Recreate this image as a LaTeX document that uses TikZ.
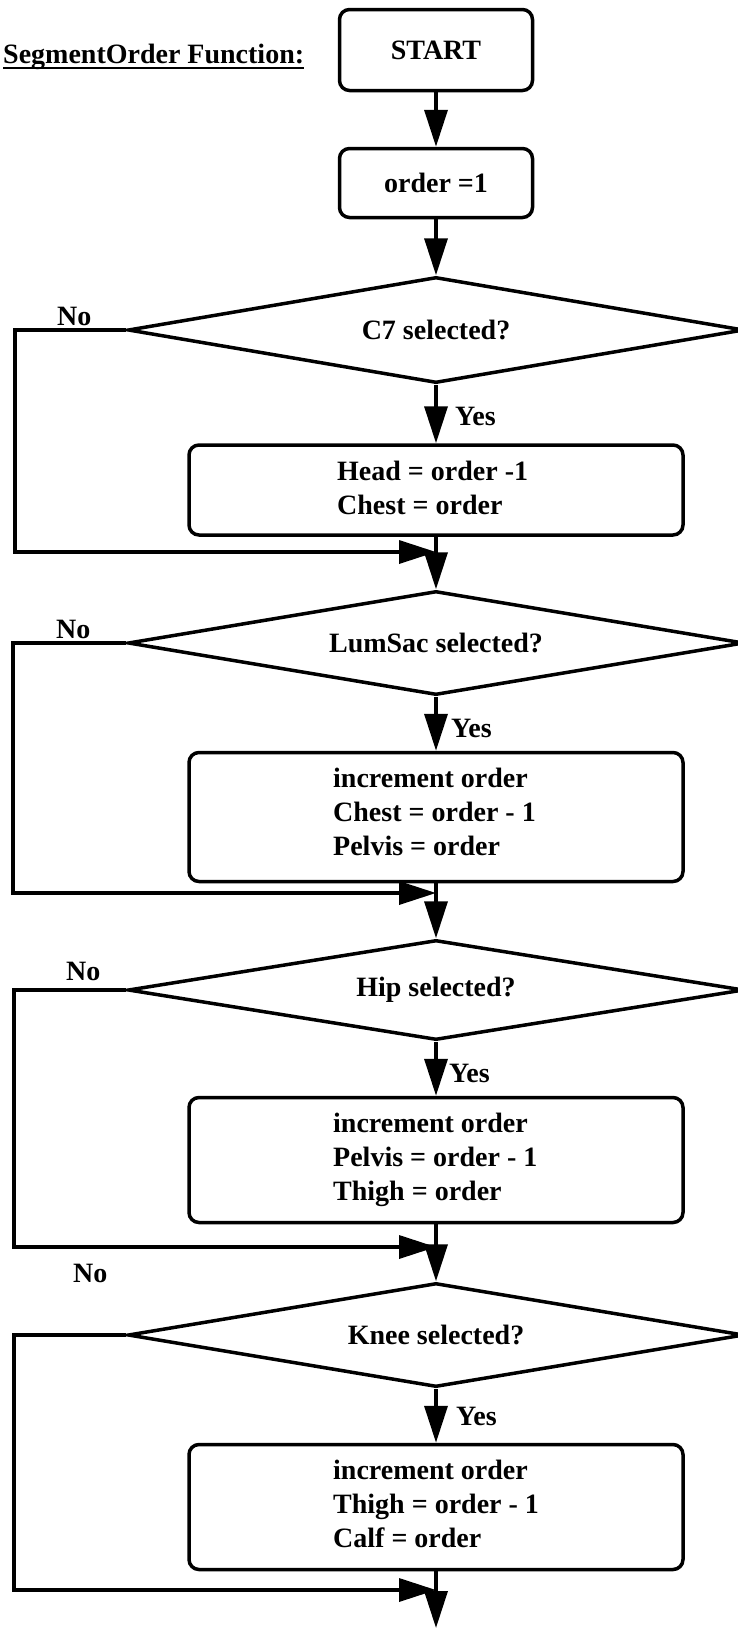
\documentclass[tikz,border=0pt]{standalone}
\usepackage{fontspec}
\setmainfont{Liberation Serif}
\usetikzlibrary{shapes.geometric,arrows.meta}
\newcommand\flowfont{\fontsize{28}{34}\selectfont\bfseries}
\begin{document}
\begin{tikzpicture}[x=1pt,y=-1pt,
  every node/.style={font=\flowfont, inner sep=0pt},
  termbox/.style={draw, rounded corners=10pt, line width=3.5pt, minimum width=193pt},
  stepbox/.style={draw, rounded corners=10pt, line width=3.5pt, minimum width=494pt},
  decision/.style={draw, diamond, aspect=5.8, line width=3.5pt, minimum width=616pt},
  flow/.style={line width=3.5pt, -{Triangle[length=37pt,width=23pt]}},
  lbl/.style={anchor=base west},
  body/.style={anchor=west, align=left}
]
\useasboundingbox (0,0) rectangle (737,1628);

% heading
\node[lbl] (title) at (3,63) {SegmentOrder Function:};
\draw[line width=2.5pt] ([yshift=-5pt]title.base west) -- ([yshift=-5pt]title.base east);

% start and initialisation
\node[termbox, minimum height=81pt] (start) at (436,50) {START};
\node[termbox, minimum height=69pt] (init) at (436,183) {order =1};

% C7 test
\node[decision, minimum height=106pt] (d1) at (436,330) {C7 selected?};
\node[stepbox, minimum height=90pt] (b2) at (436,490) {};
\node[body] (t2) at (337,488) {Head = order -1\\Chest = order};
\coordinate (m1) at (436,552);
\coordinate (r1) at (15,330);

% LumSac test
\node[decision, minimum height=104pt] (d2) at (436,643) {LumSac selected?};
\node[stepbox, minimum height=129pt] (b3) at (436,817) {};
\node[body] (t3) at (333,812) {increment order\\Chest = order - 1\\Pelvis = order};
\coordinate (m2) at (436,893);
\coordinate (r2) at (13,643);

% Hip test
\node[decision, minimum height=100pt] (d3) at (436,990) {Hip selected?};
\node[stepbox, minimum height=125pt] (b4) at (436,1160) {};
\node[body] (t4) at (333,1160) {increment order\\Pelvis = order - 1\\Thigh = order};
\coordinate (m3) at (436,1247);
\coordinate (r3) at (14,990);

% Knee test
\node[decision, minimum height=104pt] (d4) at (436,1335) {Knee selected?};
\node[stepbox, minimum height=125pt] (b5) at (436,1507) {};
\node[body] (t5) at (333,1504) {increment order\\Thigh = order - 1\\Calf = order};
\coordinate (m4) at (436,1590);
\coordinate (r4) at (14,1335);
\coordinate (exit) at (436,1628);

% branch labels
\node[lbl] (n1) at (57,325) {No};
\node[lbl] (n2) at (56,638) {No};
\node[lbl] (n3) at (66,980) {No};
\node[lbl] (n4) at (73,1282) {No};
\node[lbl] (y1) at (455,425) {Yes};
\node[lbl] (y2) at (451,737) {Yes};
\node[lbl] (y3) at (449,1082) {Yes};
\node[lbl] (y4) at (456,1425) {Yes};

% main flow
\draw[flow] (start) -- (init);
\draw[flow] (init) -- (d1);
\draw[flow] (d1) -- (b2);
\draw[flow] (b2) -- (d2);
\draw[flow] (d2) -- (b3);
\draw[flow] (b3) -- (d3);
\draw[flow] (d3) -- (b4);
\draw[flow] (b4) -- (d4);
\draw[flow] (d4) -- (b5);
\draw[flow] (b5) -- (exit);

% bypass paths
\draw[flow] (d1.west) -- (r1) |- (m1);
\draw[flow] (d2.west) -- (r2) |- (m2);
\draw[flow] (d3.west) -- (r3) |- (m3);
\draw[flow] (d4.west) -- (r4) |- (m4);
\end{tikzpicture}
\end{document}
